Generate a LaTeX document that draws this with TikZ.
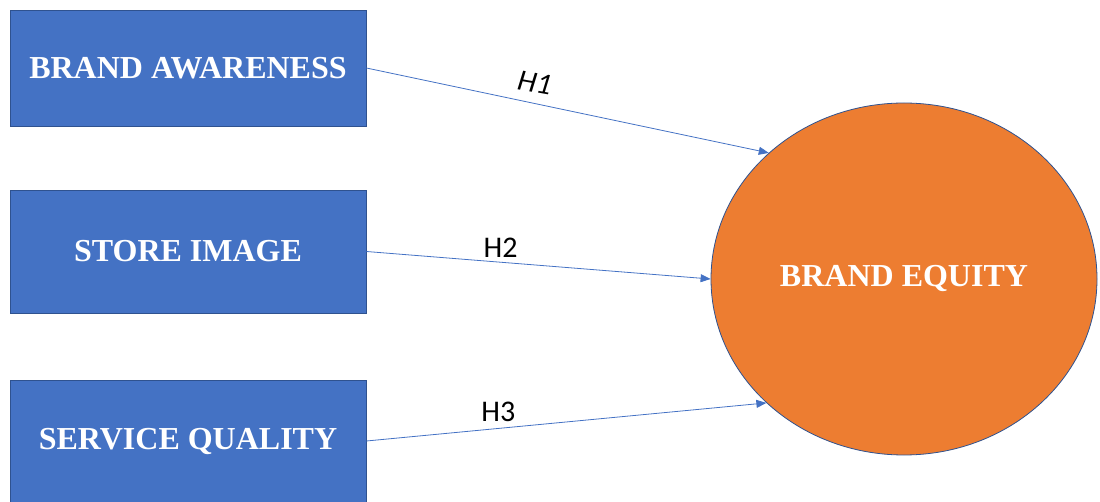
\documentclass[tikz,border=0pt]{standalone}
\usepackage{fontspec}
\setmainfont{Liberation Serif}
\newfontfamily\hypfont{Carlito}
\usepackage{xcolor}
\usetikzlibrary{shapes.geometric, arrows.meta, positioning}

\definecolor{boxblue}{RGB}{68,114,196}
\definecolor{edgeblue}{RGB}{47,82,143}
\definecolor{eqorange}{RGB}{237,125,49}

\begin{document}
\begin{tikzpicture}[
        x=1pt, y=-1pt,
        construct/.style={rectangle, draw=edgeblue, fill=boxblue, line width=0.8pt, minimum width=356pt, minimum height=116pt, text=white, font=\fontsize{32}{35}\selectfont\bfseries},
        outcome/.style={ellipse, draw=edgeblue, fill=eqorange, line width=0.8pt, minimum width=386pt, minimum height=352pt, inner sep=0pt, text=white, font=\fontsize{32}{35}\selectfont\bfseries},
        hyp/.style={draw=boxblue, line width=0.8pt, -{Triangle[length=10pt,width=8pt]}},
        hyplabel/.style={above, inner sep=4pt, font=\hypfont\fontsize{30}{32}\selectfont}
    ]
        \useasboundingbox (0,0) rectangle (1100,502);

        % Constructs
        \node[construct] (awareness) at (188,68) {BRAND AWARENESS};
        \node[construct, minimum height=123pt] (image) at (188,251.5) {STORE IMAGE};
        \node[construct, minimum height=122pt] (quality) at (188,441) {SERVICE QUALITY};

        % Outcome
        \node[outcome] (equity) at (904,279) {BRAND EQUITY};

        % Hypotheses
        \draw[hyp] (awareness.east) -- node[hyplabel, pos=0.41, rotate=-10, yshift=6pt] {\itshape H1} (equity.137.6);
        \draw[hyp] (image.east) -- node[hyplabel, pos=0.39] {H2} (equity.west);
        \draw[hyp] (quality.east) -- node[hyplabel, pos=0.33, yshift=2pt] {H3} (equity.222.4);
    \end{tikzpicture}
\end{document}
